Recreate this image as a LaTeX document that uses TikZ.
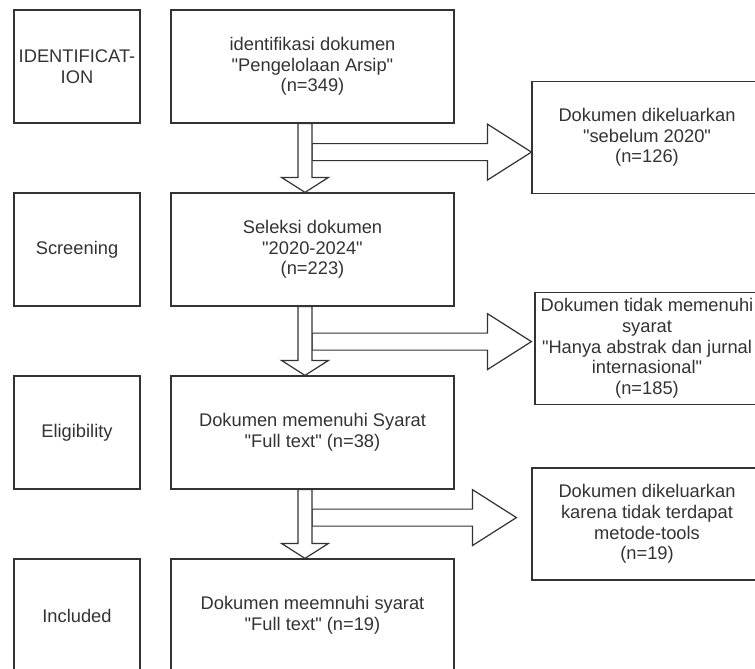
\documentclass[tikz,border=0pt]{standalone}
\usepackage{fontspec}
\setmainfont{Liberation Sans}[Ligatures=TeXOff]
\usetikzlibrary{calc}

\begin{document}
\begin{tikzpicture}[x=1pt, y=-1pt, line width=1.2pt, color=black!80,
    font=\fontsize{18.3}{20.7}\selectfont,
    box/.style={draw, align=center, inner sep=0pt},
    stage/.style={box, minimum width=126pt, minimum height=113pt},
    mainbox/.style={box, minimum width=283pt, minimum height=113pt},
    outbox/.style={box, minimum width=230pt, minimum height=112pt},
    blockarrow/.style={draw, fill=white, line join=miter}]
        \useasboundingbox (0,0) rectangle (755,669);
        % phases
        \node[stage] (idf) at (77,66.5) {IDENTIFICAT-\\ION};
        \node[stage] (scr) at (77,249.5) {Screening};
        \node[stage] (elg) at (77,432.5) {Eligibility};
        \node[stage] (inc) at (77,615.5) {Included};
        % main flow
        \node[mainbox] (idn) at (312.5,66.5) {identifikasi dokumen\\"Pengelolaan Arsip"\\(n=349)};
        \node[mainbox] (sel) at (312.5,249.5) {Seleksi dokumen\\"2020-2024"\\(n=223)};
        \node[mainbox] (elig) at (312.5,432.5) {Dokumen memenuhi Syarat\\"Full text" (n=38)};
        \node[mainbox] (incl) at (312.5,615.5) {Dokumen meemnuhi syarat\\"Full text" (n=19)};
        % excluded
        \node[outbox] (out1) at (647,137.5) {Dokumen dikeluarkan\\"sebelum 2020"\\(n=126)};
        \node[outbox, minimum width=224pt] (out2) at (647,348.5) {Dokumen tidak memenuhi\\syarat\\"Hanya abstrak dan jurnal\\internasional"\\(n=185)};
        \node[outbox] (out3) at (647,524) {Dokumen dikeluarkan\\karena tidak terdapat\\metode-tools\\(n=19)};
        % side arrows
        \foreach \src/\dst/\dy/\gap in {idn/out1/28.5/0, sel/out2/35/3, elig/out3/28/15} {
          \coordinate (a) at ($(\src.south)+(-0.5,\dy)$);
          \coordinate (tip) at ($(a -| \dst.west)+(-\gap,0)$);
          \draw[blockarrow] ($(a)+(0,-8.5)$) -- ($(tip)+(-44,-8.5)$) -- ($(tip)+(-44,-28)$) -- (tip)
            -- ($(tip)+(-44,28)$) -- ($(tip)+(-44,8.5)$) -- ($(a)+(0,8.5)$) -- cycle;
        }
        % down arrows
        \foreach \src/\dst in {idn/sel, sel/elig, elig/incl} {
          \coordinate (s) at ($(\src.south)+(-7.5,0)$);
          \coordinate (t) at ($(\dst.north)+(-7.5,0)$);
          \draw[blockarrow] ($(s)+(-7,0)$) -- ($(t)+(-7,-15)$) -- ($(t)+(-23.5,-15)$) -- (t)
            -- ($(t)+(23.5,-15)$) -- ($(t)+(7,-15)$) -- ($(s)+(7,0)$) -- cycle;
        }
      \end{tikzpicture}
\end{document}
